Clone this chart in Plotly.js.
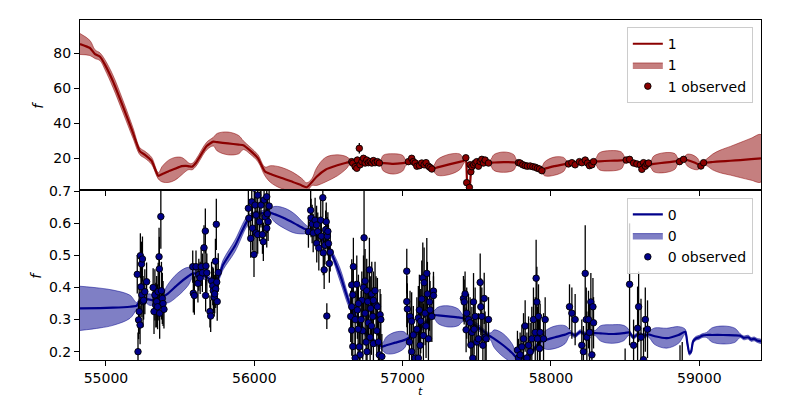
<!DOCTYPE html>
<html>
<head>
<meta charset="utf-8">
<script src="https://cdn.plot.ly/plotly-3.0.1.min.js"></script>
<style>html,body{margin:0;padding:0;background:#fff;}#chart{width:800px;height:400px;}</style>
</head>
<body>
<div id="chart"></div>
<script>
// ---------- Band "1" (top panel): GP prediction ----------
const predT1 = [54825,54892,54926,54960,54993,55047,55115,55182,55229,55263,55308,55353,55380,55420,55465,55510,55540,55560,55580,55607,55679,55724,55750,55823,55895,55926,55971,56025,56072,56110,56175,56260,56320,56354,56389,56420,56480,56560,56620,56646,56713,56781,56848,56870,56936,57000,57023,57064,57118,57165,57206,57235,57314,57385,57408,57426,57438,57452,57462,57496,57536,57590,57615,57681,57748,57772,57826,57880,57934,57958,58022,58085,58109,58197,58298,58325,58400,58475,58501,58582,58669,58693,58764,58835,58858,58899,58918,58953,58988,59007,59041,59090,59142,59210,59276,59350,59416];
const predM1 = [85.3,83,79.5,78,73.5,64,49.5,34.5,24,22,18.5,10,11,12.5,14,15.5,15.7,15.4,15.2,17.5,27,29.5,29.2,28.5,27.8,27.5,24.5,20,12.5,11,9,6.5,4.5,3.5,6.5,9.5,13.5,16,17.5,18,17.5,17.8,17.5,17.3,16.8,17.2,17.5,18.5,17,16,14.2,14.8,16.5,18,18.5,20,4,4,12.5,16.8,18.5,17.5,17.6,17.8,17.7,17.5,16.5,15.3,13.5,14,15.5,16.5,17,17.5,18.2,18.3,18.6,18.8,19,17,16.5,16.8,17.5,18.2,18.5,19.5,19,18,16.8,16,17.5,17.9,18.2,18.6,19,19.5,20];
const predS1 = [6,4.3,2.5,2.2,2.8,3.5,3.5,3,2,2,2,1.8,4.5,6.3,6.5,5,3,1.8,1.8,2,2.2,2.5,5,6.5,5.2,2.5,2,2,2.5,4.8,6,5.5,4,2.5,2,5,7,6,3.5,1.5,1.2,1.2,1.2,4.5,5.8,4.5,1.5,1.2,1.2,1.2,1.5,4.5,5.8,4.5,2,1.5,1.5,1.5,1.5,1.2,1.2,1.5,4.5,5.8,4.5,1.2,1.2,1.2,1.2,4,5.2,4,1.5,1.2,1.5,4.8,5.8,4.8,1.5,1.2,1.5,4.5,5.7,4.5,1.5,1.5,3.3,4,3.3,1.5,1.5,4.5,6.5,8.2,10,12,13.5];

// ---------- Observed "1" ----------
const obsT1 = [56657,56664,56680,56691,56695,56708,56713,56725,56736,56747,56758,56769,56781,56792,56803,56814,56830,56843,
  57039,57061,57072,57084,57096,57113,57129,57145,57158,57174,57185,57197,
  57426,57432,57450,57455,57460,57467,57478,57489,57500,57511,57523,57534,57545,57556,57579,
  57781,57792,57810,57826,57841,57860,57878,57894,57909,57923,57939,
  58118,58141,58163,58192,58208,58231,58246,58260,58276,58287,
  58507,58530,58557,58579,58602,58613,58624,58636,58647,58658,
  58867,58894,59011,59029];
const obsF1 = [18.1,17.2,15.2,14.3,19.0,25.7,16.3,18.1,20.0,17.3,19.0,17.5,18.1,17.3,18.7,17.5,18.1,17.3,
  18.1,20.0,18.1,17.3,15.5,15.8,17.3,16.3,17.5,15.5,14.8,13.9,
  20.3,6.1,3.4,16.3,12.3,15.2,16.3,17.3,18.1,15.5,18.1,19.4,17.3,19.0,17.3,
  17.5,17.3,16.3,15.8,15.5,15.6,15.2,14.9,14.3,13.9,12.9,
  16.8,17.5,16.3,18.1,17.5,19.0,17.3,15.8,16.3,18.1,
  19.0,19.4,17.3,16.8,16.3,13.7,17.5,15.5,16.8,17.3,
  18.1,19.4,15.6,17.5];
const obsE1 = [1,1,1,1,1,3,1,1,1,1,1,1,1,1,1,1,1,1,
  1,1,1,1,1,1,1,1,1,1,1,1,
  1,1.5,1.5,1,1,1,1,1,1,1,1,1,1,1,1,
  1,1,1,1,1,1,1,1,1,1,1,
  1,1,1,1,1,1,1,1,1,1,
  1,1,1,1,1,1,1,1,1,1,
  1,1,1,1];

// ---------- Band "0" (bottom panel): GP prediction ----------
const predT0 = [54825,54960,55047,55162,55207,55229,55263,55297,55330,55384,55415,55486,55555,55587,55634,55688,55724,55757,55789,55870,55949,55991,56039,56093,56140,56207,56270,56330,56356,56430,56511,56578,56646,56747,56860,56890,56950,57010,57037,57118,57206,57240,57307,57375,57408,57496,57590,57618,57678,57740,57772,57840,57927,57960,58028,58095,58130,58163,58197,58231,58265,58298,58335,58413,58490,58528,58555,58588,58622,58656,58700,58780,58860,58905,58920,58933,58945,58958,58980,59000,59020,59050,59085,59160,59240,59275,59300,59330,59350,59370,59390,59416];
const predM0 = [0.335,0.336,0.337,0.34,0.343,0.358,0.365,0.362,0.36,0.371,0.38,0.41,0.435,0.444,0.44,0.43,0.415,0.43,0.47,0.53,0.605,0.625,0.63,0.635,0.628,0.615,0.6,0.585,0.58,0.565,0.515,0.44,0.345,0.26,0.216,0.22,0.228,0.236,0.242,0.27,0.314,0.313,0.31,0.307,0.304,0.28,0.248,0.24,0.22,0.195,0.18,0.182,0.231,0.236,0.245,0.253,0.259,0.25,0.262,0.255,0.258,0.258,0.257,0.255,0.258,0.26,0.245,0.255,0.25,0.254,0.248,0.242,0.252,0.262,0.225,0.195,0.2,0.232,0.242,0.245,0.25,0.252,0.252,0.252,0.251,0.25,0.243,0.245,0.238,0.24,0.235,0.232];
const predS0 = [0.069,0.062,0.055,0.036,0.01,0.01,0.012,0.018,0.012,0.012,0.028,0.036,0.028,0.012,0.01,0.01,0.01,0.01,0.015,0.018,0.015,0.01,0.008,0.01,0.025,0.032,0.03,0.018,0.012,0.01,0.01,0.02,0.015,0.01,0.01,0.026,0.033,0.026,0.01,0.01,0.01,0.026,0.033,0.026,0.01,0.01,0.01,0.028,0.036,0.028,0.01,0.01,0.01,0.028,0.035,0.028,0.008,0.006,0.006,0.006,0.006,0.008,0.024,0.029,0.024,0.008,0.006,0.006,0.006,0.008,0.026,0.031,0.026,0.008,0.006,0.006,0.006,0.006,0.006,0.006,0.006,0.008,0.022,0.028,0.022,0.006,0.006,0.006,0.006,0.006,0.006,0.006];

// ---------- Observed "0" ----------
const obsT0 = [
  55211,55216,55220,55224,55230,55232,55236,55240,55242,55246,55250,55254,55262,55274,
  55318,55324,55330,55336,55342,55348,55352,55358,55360,55362,55370,55374,55380,55385,55391,
  55585,55589,55596,55607,55620,55626,55635,55642,55650,55661,55670,55674,55672,55680,55701,55706,55712,55720,55724,55730,55738,55744,55747,55750,55757,55740,55733,
  55960,55963,55976,55983,55988,55998,56005,56012,56012,56023,56035,56023,56045,56055,56061,56066,56073,56084,56088,56093,56100,56084,56040,56000,
  56365,56380,56383,56390,56397,56410,56421,56428,56435,56448,56452,56462,56465,56471,56476,56481,56485,56489,56492,56496,56500,56506,56512,56420,
  56657,56668,56664,56657,56650,56657,56664,56680,56691,56695,56708,56713,56725,56731,56736,56740,56747,56754,56758,56765,56769,56776,56781,56785,56792,56799,56803,56814,56821,56826,56830,56837,56843,56848,56853,56860,56680,56702,56747,56803,56720,56790,56700,56760,
  57028,57028,57032,57050,57061,57072,57046,57061,57084,57096,57106,57113,57118,57122,57129,57136,57140,57145,57152,57158,57163,57167,57174,57181,57185,57197,57208,57208,57106,
  57410,57415,57421,57428,57432,57444,57455,57460,57467,57473,57478,57482,57489,57500,57511,57523,57527,57534,57541,57550,57556,57563,57579,
  57774,57781,57792,57804,57815,57826,57838,57849,57860,57871,57882,57894,57900,57905,57909,57916,57923,57927,57950,57961,
  58125,58141,58163,58208,58219,58231,58238,58242,58253,58260,58269,58276,58283,58287,
  58500,58530,58557,58584,58591,58607,58624,58636,58651,58870,58885];
const obsF0 = [
  0.441,0.200,0.299,0.325,0.283,0.499,0.402,0.473,0.377,0.489,0.356,0.360,0.387,0.418,
  0.400,0.325,0.377,0.345,0.356,0.340,0.387,0.496,0.458,0.320,0.621,0.390,0.366,0.350,0.332,
  0.465,0.382,0.375,0.465,0.413,0.440,0.430,0.465,0.446,0.524,0.576,0.467,0.375,0.446,0.325,0.311,0.420,0.405,0.390,0.370,0.482,0.597,0.417,0.356,0.447,0.396,0.380,
  0.647,0.616,0.553,0.667,0.585,0.503,0.657,0.626,0.570,0.688,0.605,0.565,0.657,0.565,0.543,0.673,0.620,0.683,0.630,0.605,0.654,0.585,0.720,0.710,
  0.574,0.641,0.617,0.598,0.570,0.610,0.538,0.574,0.523,0.610,0.560,0.680,0.508,0.455,0.532,0.580,0.605,0.311,0.560,0.575,0.537,0.475,0.510,0.595,
  0.408,0.465,0.377,0.340,0.310,0.267,0.216,0.300,0.410,0.330,0.215,0.190,0.360,0.265,0.400,0.555,0.320,0.230,0.390,0.356,0.290,0.455,0.245,0.335,0.380,0.310,0.225,0.390,0.345,0.265,0.340,0.230,0.190,0.315,0.300,0.185,0.180,0.350,0.420,0.360,0.300,0.280,0.270,0.200,
  0.451,0.356,0.333,0.310,0.295,0.252,0.230,0.200,0.180,0.270,0.305,0.330,0.220,0.295,0.364,0.430,0.250,0.415,0.320,0.280,0.444,0.380,0.240,0.355,0.330,0.310,0.389,0.375,0.180,
  0.366,0.355,0.380,0.268,0.320,0.300,0.290,0.221,0.260,0.180,0.355,0.270,0.310,0.230,0.240,0.416,0.340,0.310,0.220,0.366,0.245,0.240,0.300,
  0.205,0.180,0.190,0.215,0.240,0.280,0.180,0.220,0.200,0.240,0.300,0.260,0.429,0.355,0.240,0.310,0.210,0.260,0.240,0.300,
  0.340,0.320,0.300,0.220,0.200,0.444,0.300,0.245,0.300,0.260,0.355,0.190,0.340,0.290,
  0.120,0.410,0.220,0.273,0.340,0.245,0.175,0.300,0.270,0.120,0.130];
const obsE0 = [
  0.06,0.06,0.06,0.07,0.06,0.07,0.08,0.07,0.07,0.07,0.08,0.06,0.07,0.06,
  0.06,0.07,0.08,0.07,0.08,0.07,0.09,0.09,0.10,0.08,0.10,0.09,0.08,0.07,0.06,
  0.05,0.06,0.06,0.05,0.06,0.05,0.05,0.06,0.06,0.07,0.07,0.06,0.05,0.06,0.05,0.05,0.06,0.06,0.07,0.06,0.07,0.08,0.06,0.06,0.06,0.06,0.06,
  0.06,0.06,0.06,0.06,0.07,0.07,0.07,0.06,0.07,0.07,0.06,0.06,0.07,0.06,0.06,0.06,0.06,0.05,0.06,0.06,0.05,0.06,0.06,0.06,
  0.05,0.06,0.06,0.06,0.06,0.07,0.06,0.06,0.07,0.07,0.06,0.06,0.07,0.06,0.06,0.06,0.06,0.04,0.06,0.06,0.06,0.06,0.06,0.06,
  0.08,0.09,0.08,0.08,0.08,0.08,0.08,0.09,0.09,0.09,0.09,0.09,0.09,0.09,0.10,0.15,0.10,0.10,0.10,0.10,0.09,0.10,0.09,0.10,0.10,0.09,0.09,0.09,0.09,0.08,0.09,0.08,0.08,0.08,0.08,0.07,0.08,0.09,0.10,0.09,0.09,0.09,0.09,0.09,
  0.07,0.08,0.08,0.08,0.09,0.09,0.08,0.09,0.09,0.10,0.10,0.11,0.10,0.10,0.12,0.11,0.10,0.11,0.10,0.10,0.11,0.10,0.09,0.09,0.09,0.08,0.06,0.06,0.09,
  0.07,0.07,0.07,0.07,0.08,0.08,0.08,0.08,0.08,0.08,0.09,0.08,0.09,0.08,0.08,0.09,0.09,0.09,0.08,0.08,0.08,0.07,0.07,
  0.06,0.06,0.07,0.07,0.08,0.08,0.08,0.09,0.09,0.10,0.10,0.11,0.12,0.11,0.10,0.10,0.09,0.09,0.08,0.07,
  0.07,0.08,0.08,0.08,0.08,0.15,0.10,0.08,0.09,0.09,0.09,0.08,0.09,0.08,
  0.09,0.19,0.08,0.13,0.11,0.12,0.10,0.10,0.09,0.10,0.10];

const xRange = [54825, 59416];
const yRange1 = [1.9, 99];
const yRange0 = [0.174, 0.704];
const xTicks = [55000, 56000, 57000, 58000, 59000];
const xTickText = ['55000', '56000', '57000', '58000', '59000'];
const yTicks1 = [20, 40, 60, 80];
const yTicks0 = [0.2, 0.3, 0.4, 0.5, 0.6, 0.7];

function band(t, m, s) {
  const up = t.map((_, i) => m[i] + s[i]);
  const lo = t.map((_, i) => m[i] - s[i]);
  return {x: t.concat(t.slice().reverse()), y: up.concat(lo.slice().reverse())};
}

const RED = '#8b0000', BLUE = '#00008b';
const b1 = band(predT1, predM1, predS1);
const b0 = band(predT0, predM0, predS0);

const traces = [
  {x: b1.x, y: b1.y, xaxis: 'x', yaxis: 'y', type: 'scatter', mode: 'lines', fill: 'toself',
   fillcolor: 'rgba(139,0,0,0.5)', line: {color: 'rgba(139,0,0,0.5)', width: 1, shape: 'spline', smoothing: 1},
   name: '1', legend: 'legend', legendrank: 2, hoverinfo: 'skip'},
  {x: predT1, y: predM1, xaxis: 'x', yaxis: 'y', type: 'scatter', mode: 'lines',
   line: {color: RED, width: 2.2, shape: 'spline', smoothing: 0.5}, name: '1', legend: 'legend', legendrank: 1},
  {x: obsT1, y: obsF1, xaxis: 'x', yaxis: 'y', type: 'scatter', mode: 'markers',
   marker: {color: RED, size: 6.5, line: {color: '#000', width: 0.9}},
   error_y: {type: 'data', array: obsE1, color: '#000', thickness: 1.3, width: 0},
   name: '1 observed', legend: 'legend', legendrank: 3},
  {x: b0.x, y: b0.y, xaxis: 'x2', yaxis: 'y2', type: 'scatter', mode: 'lines', fill: 'toself',
   fillcolor: 'rgba(0,0,139,0.5)', line: {color: 'rgba(0,0,139,0.5)', width: 1, shape: 'spline', smoothing: 1},
   name: '0', legend: 'legend2', legendrank: 2, hoverinfo: 'skip'},
  {x: predT0, y: predM0, xaxis: 'x2', yaxis: 'y2', type: 'scatter', mode: 'lines',
   line: {color: BLUE, width: 2.2, shape: 'spline', smoothing: 0.5}, name: '0', legend: 'legend2', legendrank: 1},
  {x: obsT0, y: obsF0, xaxis: 'x2', yaxis: 'y2', type: 'scatter', mode: 'markers',
   marker: {color: BLUE, size: 6.5, line: {color: '#000', width: 0.9}},
   error_y: {type: 'data', array: obsE0, color: '#000', thickness: 1.3, width: 0},
   name: '0 observed', legend: 'legend2', legendrank: 3}
];

const FONT = 'DejaVu Sans, Verdana, sans-serif';
const axBase = {showgrid: false, zeroline: false, showline: true, mirror: true, linecolor: '#000', linewidth: 1,
  ticks: 'outside', ticklen: 5, tickwidth: 1, tickcolor: '#000', tickfont: {family: FONT, size: 14, color: '#000'}};
const legBase = {bgcolor: 'rgba(255,255,255,0.8)', bordercolor: '#cccccc', borderwidth: 1,
  font: {family: FONT, size: 14, color: '#000'}, xanchor: 'right', yanchor: 'top', x: 0.988, traceorder: 'normal'};

const layout = {
  width: 800, height: 400,
  margin: {l: 80, r: 39, t: 20, b: 40},
  paper_bgcolor: '#fff', plot_bgcolor: '#fff',
  showlegend: true,
  xaxis: Object.assign({}, axBase, {domain: [0, 1], anchor: 'y', range: xRange, tickvals: xTicks, ticktext: xTickText, showticklabels: false, matches: 'x2'}),
  yaxis: Object.assign({}, axBase, {domain: [0.5, 1], anchor: 'x', range: yRange1, tickvals: yTicks1}),
  xaxis2: Object.assign({}, axBase, {domain: [0, 1], anchor: 'y2', range: xRange, tickvals: xTicks, ticktext: xTickText}),
  yaxis2: Object.assign({}, axBase, {domain: [0, 0.5], anchor: 'x2', range: yRange0, tickvals: yTicks0, tickformat: '.1f'}),
  legend: Object.assign({}, legBase, {y: 0.979}),
  legend2: Object.assign({}, legBase, {y: 0.477}),
  annotations: [
    {text: '<i>f</i>', xref: 'paper', yref: 'paper', x: -0.062, y: 0.75, showarrow: false, textangle: -90,
     font: {family: FONT, size: 14, color: '#000'}, xanchor: 'center', yanchor: 'middle'},
    {text: '<i>f</i>', xref: 'paper', yref: 'paper', x: -0.065, y: 0.25, showarrow: false, textangle: -90,
     font: {family: FONT, size: 14, color: '#000'}, xanchor: 'center', yanchor: 'middle'},
    {text: '<i>t</i>', xref: 'paper', yref: 'paper', x: 0.5, y: -0.1176, showarrow: false,
     font: {family: FONT, size: 11, color: '#000'}, xanchor: 'center', yanchor: 'bottom'}
  ]
};

Plotly.newPlot('chart', traces, layout, {staticPlot: true, displayModeBar: false});
</script>
</body>
</html>
